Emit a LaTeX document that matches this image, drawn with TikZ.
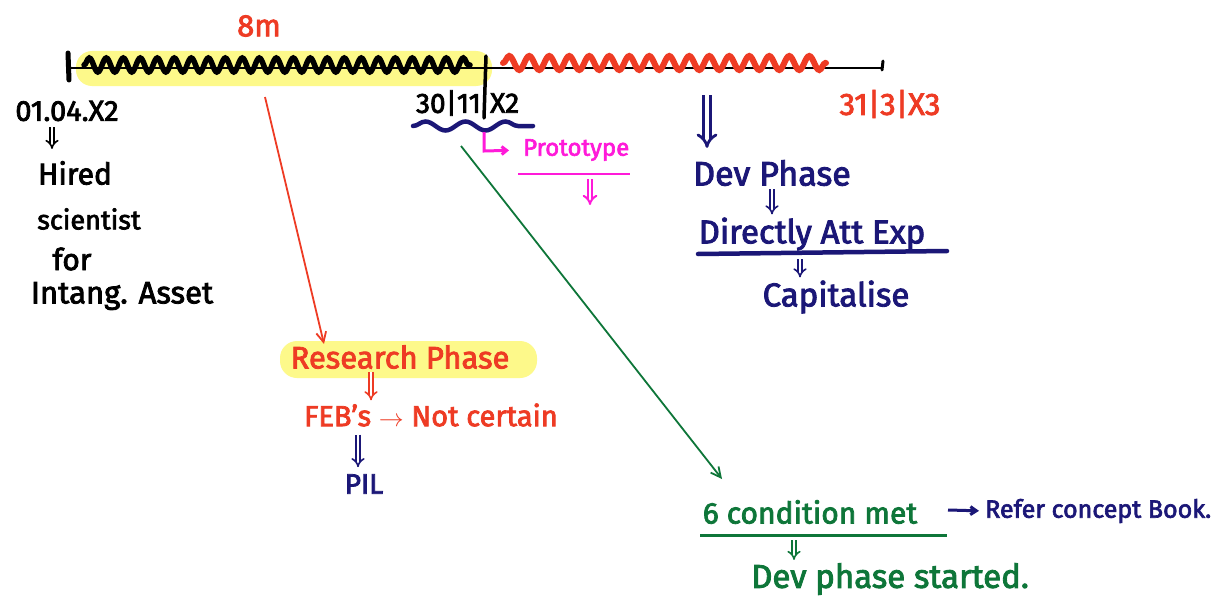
\documentclass[tikz,border=0pt]{standalone}
\usepackage{fontspec}
\setmainfont{Fira Sans}[FakeBold=2.6]
\usetikzlibrary{decorations.pathmorphing,arrows.meta}
\definecolor{hred}{HTML}{EE3B24}
\definecolor{hnavy}{HTML}{1B1777}
\definecolor{hgreen}{HTML}{0E7639}
\definecolor{hmag}{HTML}{FF1AD9}
\definecolor{hyel}{HTML}{FDF98A}
\begin{document}
\begin{tikzpicture}[x=1pt,y=-1pt,
  hw/.style={font=\fontsize{#1}{#1}\selectfont, inner sep=0pt},
  wavy/.style={decorate, decoration={snake, segment length=#1, amplitude=7pt}},
  conn/.style={line width=1.8pt, -{Straight Barb[length=10pt,width=10pt]}},
  dblar/.style={line width=1.6pt, double distance=2.8pt, -{Implies}, shorten <=3pt, shorten >=3pt}
]
\useasboundingbox (0,0) rectangle (1231,602);
\fill[white] (0,0) rectangle (1231,602);
% highlights
\fill[hyel, rounded corners=16pt] (76,51) rectangle (492,86);
\fill[hyel, rounded corners=17pt] (280,341) rectangle (537,378);
% timeline
\coordinate (tl0) at (68,68);
\coordinate (tl1) at (882,68);
\draw[line width=2.6pt] (tl0) -- (tl1);
\draw[line width=5pt, line cap=round] (68,53) -- (69,80);
\draw[line width=3.5pt, line cap=round] (486,56) -- (484,118);
\draw[line width=3pt, line cap=round] (883,61) -- (882,70);
\draw[line width=5.5pt, line cap=round, wavy=17pt] (84,65) -- (470,65);
\draw[hred, line width=6pt, line cap=round, wavy=20pt] (503,63) -- (826,63);
% top labels
\node[hw=31, hred] (eightm) at (259,26) {8m};
\node[hw=29] (start) at (67,111) {01.04.X2};
\coordinate (sax) at (52,0);
\node[hw=30] (hired) at (75,173) {Hired};
\draw[dblar, shorten <=6pt, shorten >=12pt] (start.south -| sax) -- (hired.north -| sax);
\node[hw=27] (sci) at (89,219) {scientist};
\node[hw=30] (for) at (72,259) {for};
\node[hw=31] (asset) at (122,296) {Intang. Asset};
% 30/11/X2
\node[hw=28, anchor=east] (d1) at (481,103) {30|11};
\node[hw=28, anchor=west] (d2) at (490,103) {X2};
\draw[hnavy, line width=4.5pt, line cap=round, wavy=40pt, decoration={amplitude=4.5pt}] (413,126) -- (533,126);
% prototype
\node[hw=24, hmag, anchor=west] (proto) at (523,150) {Prototype};
\coordinate (hk0) at (484,132);
\draw[hmag, line width=3pt, -{Straight Barb[length=5pt,width=8pt]}, shorten >=14pt] (hk0) -- (484,151) -- (proto.west);
\draw[hmag, line width=2.6pt] (518,174) -- (630,174);
\coordinate (pa1) at (590,176);
\coordinate (pa2) at (590,208);
\draw[hmag, dblar, line width=2pt] (pa1) -- (pa2);
% 31/3/X3
\node[hw=31, hred] (end) at (890,104) {31|3|X3};
% Dev phase branch
\node[hw=34, hnavy] (dev) at (772,173) {Dev Phase};
\coordinate (dax) at (707,0);
\coordinate (da0) at (707,95);
\draw[hnavy, line width=2.8pt, double distance=4pt, -{Implies}, shorten >=12pt] (da0) -- (dev.north -| dax);
\node[hw=33, hnavy] (direct) at (812,234) {Directly Att Exp};
\coordinate (dvx) at (772,0);
\draw[hnavy, dblar] (dev.south -| dvx) -- (direct.north -| dvx);
\draw[hnavy, line width=4.5pt, line cap=round] (698,254) -- (947,251);
\node[hw=33, hnavy] (cap) at (836,297) {Capitalise};
\coordinate (drx) at (800,0);
\coordinate (dr0) at (800,256);
\draw[hnavy, dblar] (dr0) -- (cap.north -| drx);
% research branch
\coordinate (rs) at (265,97);
\coordinate (re) at (324,344);
\draw[hred, conn] (rs) -- (re);
\node[hw=31, hred] (research) at (400,357) {Research Phase};
\node[hw=29, hred] (feb) at (431,415) {FEB's $\rightarrow$ Not certain};
\coordinate (rax) at (371,0);
\draw[hred, dblar] (research.south -| rax) -- (feb.north -| rax);
\node[hw=28, hnavy] (pil) at (364,484) {PIL};
\coordinate (fax) at (358,0);
\draw[hnavy, dblar, shorten <=8pt, shorten >=7pt] (feb.south -| fax) -- (pil.north -| fax);
% green branch
\coordinate (gs) at (461,146);
\coordinate (ge) at (722,479);
\draw[hgreen, conn] (gs) -- (ge);
\node[hw=30, hgreen] (cond) at (810,512) {6 condition met};
\draw[hgreen, line width=3pt] (700,535) -- (947,535);
\node[hw=33, hgreen] (started) at (890,579) {Dev phase started.};
\coordinate (cax) at (794,0);
\coordinate (ca0) at (794,537);
\draw[hgreen, dblar] (ca0) -- (started.north -| cax);
\node[hw=25, hnavy, anchor=west] (refer) at (985,511) {Refer concept Book.};
\coordinate (ra0) at (948,510);
\draw[hnavy, line width=3pt, -{Straight Barb[length=6pt,width=8pt]}, shorten >=6pt] (ra0) -- (refer.west);
\end{tikzpicture}
\end{document}
